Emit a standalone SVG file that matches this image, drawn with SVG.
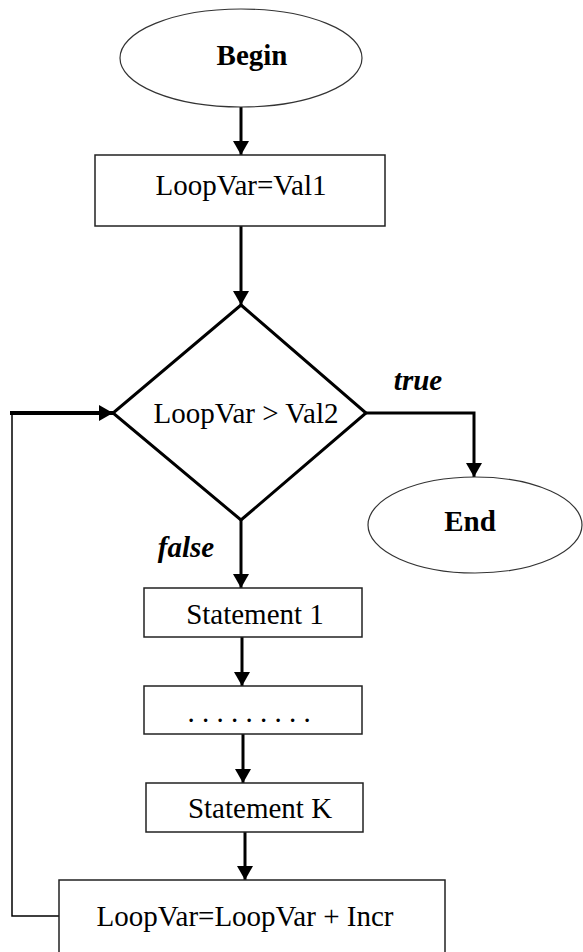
<svg xmlns="http://www.w3.org/2000/svg" width="583" height="952" viewBox="0 0 583 952">
<defs>
<marker id="ah" viewBox="0 0 14 16" refX="14" refY="8" markerWidth="14" markerHeight="16" markerUnits="userSpaceOnUse" orient="auto">
<path d="M0,0 L14,8 L0,16 Z" fill="#000"/>
</marker>
</defs>
<style>
.box{fill:#fff;stroke:#222;stroke-width:1.5}
.oval{fill:#fff;stroke:#333;stroke-width:1.2}
.dia{fill:#fff;stroke:#000;stroke-width:3}
.t{font-family:"Liberation Serif","Times New Roman",serif;font-size:29px;fill:#000;text-anchor:middle}
.b{font-weight:bold}
.i{font-style:italic;font-weight:bold}
.c{fill:none;stroke:#000;stroke-width:3}
.thin{fill:none;stroke:#000;stroke-width:1.5}
</style>
<rect width="583" height="952" fill="#fff"/>
<g id="connectors">
<line class="c" x1="241" y1="107" x2="241" y2="155" marker-end="url(#ah)"/>
<line class="c" x1="241" y1="226" x2="241" y2="305" marker-end="url(#ah)"/>
<polyline class="c" points="366,413 474,413 474,477" marker-end="url(#ah)"/>
<line class="c" x1="241" y1="520" x2="241" y2="588" marker-end="url(#ah)"/>
<line class="c" x1="242" y1="637" x2="242" y2="686" marker-end="url(#ah)"/>
<line class="c" x1="243" y1="734" x2="243" y2="783" marker-end="url(#ah)"/>
<line class="c" x1="245" y1="832" x2="245" y2="880" marker-end="url(#ah)"/>
<polyline class="thin" points="59,916 12,916 12,413"/>
<line x1="10" y1="413" x2="113" y2="413" stroke="#000" stroke-width="4" marker-end="url(#ah)"/>
<text class="t i" x="418" y="390">true</text>
<text class="t i" x="186" y="557">false</text>
</g>
<g id="begin">
<ellipse class="oval" cx="241" cy="58" rx="121" ry="49"/>
<text class="t b" x="252" y="65">Begin</text>
</g>
<g id="init">
<rect class="box" x="95" y="155" width="290" height="71"/>
<text class="t" x="241" y="195">LoopVar=Val1</text>
</g>
<g id="cond">
<polygon class="dia" points="241,305 366,413 241,520 113,413"/>
<text class="t" x="246" y="423">LoopVar &gt; Val2</text>
</g>
<g id="end">
<ellipse class="oval" cx="475" cy="525" rx="107" ry="48"/>
<text class="t b" x="470" y="531">End</text>
</g>
<g id="stmt1">
<rect class="box" x="144" y="588" width="218" height="49"/>
<text class="t" x="255" y="624">Statement 1</text>
</g>
<g id="dots">
<rect class="box" x="144" y="686" width="218" height="48"/>
<text class="t" x="249" y="722">. . . . . . . . .</text>
</g>
<g id="stmtk">
<rect class="box" x="146" y="783" width="217" height="49"/>
<text class="t" x="260" y="818">Statement K</text>
</g>
<g id="incr">
<rect class="box" x="59" y="880" width="386" height="90"/>
<text class="t" x="245" y="926">LoopVar=LoopVar + Incr</text>
</g>
</svg>
